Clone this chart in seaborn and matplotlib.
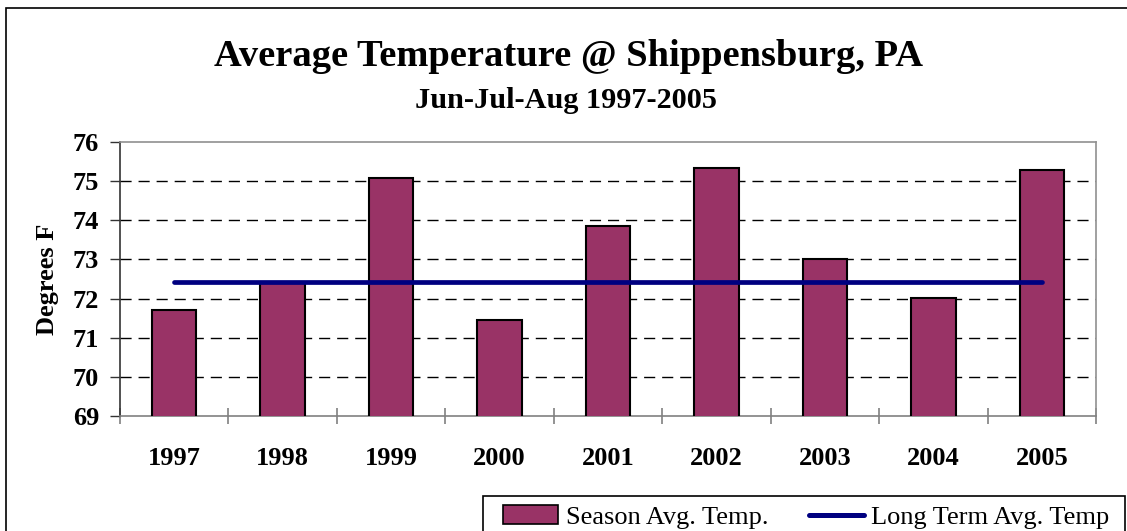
import numpy as np
import pandas as pd
import seaborn as sns
import matplotlib.pyplot as plt
from matplotlib.patches import Patch, Rectangle
from matplotlib.lines import Line2D

years = ['1997', '1998', '1999', '2000', '2001', '2002', '2003', '2004', '2005']
season_avg = [71.71, 72.39, 75.09, 71.45, 73.86, 75.33, 73.0, 72.02, 75.29]
long_term_avg = [72.42] * len(years)

bar_color = '#993366'
line_color = '#000080'

sns.set_theme(style='white')
plt.rcParams['font.family'] = ['Liberation Serif', 'DejaVu Serif']
plt.rcParams['text.color'] = 'black'
plt.rcParams['axes.labelcolor'] = 'black'
plt.rcParams['xtick.color'] = 'black'
plt.rcParams['ytick.color'] = 'black'

W, H = 1127, 531
fig = plt.figure(figsize=(W / 100, H / 100), dpi=100)
ax = fig.add_axes([120 / W, 1 - 416 / H, (1096 - 120) / W, (416 - 142) / H])

df = pd.DataFrame({'year': years, 'temp': season_avg})
sns.barplot(data=df, x='year', y='temp', color=bar_color, saturation=1,
            width=0.41, edgecolor='black', linewidth=1.5, ax=ax, zorder=3)
ax.plot(np.arange(len(years)), long_term_avg, color=line_color, lw=3.4,
        solid_capstyle='round', zorder=4)

ax.set_ylim(69, 76)
ax.set_xlim(-0.5, len(years) - 0.5)
ax.set_yticks(range(69, 77))
for y in range(70, 76):
    ax.axhline(y, color='black', lw=1.0, dashes=(8, 5), zorder=1)

ax.set_xlabel('')
ax.set_ylabel('Degrees F', fontsize=19, fontweight='bold', labelpad=10)
ax.tick_params(axis='y', which='major', length=7, width=1, color='#333333',
               labelsize=19, pad=8, left=True)
ax.tick_params(axis='x', which='major', length=0, labelsize=19, pad=22)
for lab in ax.get_xticklabels() + ax.get_yticklabels():
    lab.set_fontweight('bold')
ax.set_xticks(np.arange(-0.5, len(years)), minor=True)
ax.tick_params(axis='x', which='minor', length=12, width=1.2, color='#808080',
               bottom=True, direction='inout')

for side in ['top', 'right']:
    ax.spines[side].set_color('#909090')
    ax.spines[side].set_linewidth(1.2)
ax.spines['left'].set_color('#333333')
ax.spines['bottom'].set_color('#808080')
ax.spines['left'].set_linewidth(1.2)
ax.spines['bottom'].set_linewidth(1.2)

fig.text(568 / W, 1 - 57 / H, 'Average Temperature @ Shippensburg, PA',
         ha='center', va='center', fontsize=27.7, fontweight='bold')
fig.text(566 / W, 1 - 100 / H, 'Jun-Jul-Aug 1997-2005',
         ha='center', va='center', fontsize=21.8, fontweight='bold')

# outer chart border, cropped on the right and bottom
fig.patches.append(Rectangle((6 / W, -0.2), 1.2, 1.2 - 8 / H,
                             transform=fig.transFigure, fill=False,
                             edgecolor='black', lw=1.2))
# legend box, also cropped at the bottom
fig.patches.append(Rectangle((483 / W, -0.2), (1125 - 483) / W, 0.2 + 1 - 496 / H,
                             transform=fig.transFigure, fill=False,
                             edgecolor='black', lw=1.2))

handles = [Patch(facecolor=bar_color, edgecolor='black', lw=1.2),
           Line2D([0], [0], color=line_color, lw=3.6, solid_capstyle='round')]
fig.legend(handles, ['Season Avg. Temp.', 'Long Term Avg. Temp'],
           loc='center left', bbox_to_anchor=(503 / W, 1 - 517 / H),
           ncol=2, frameon=False, fontsize=19, handlelength=2.1,
           handletextpad=0.27, columnspacing=1.55, borderpad=0,
           borderaxespad=0)

fig.savefig('out.png', dpi=100)
